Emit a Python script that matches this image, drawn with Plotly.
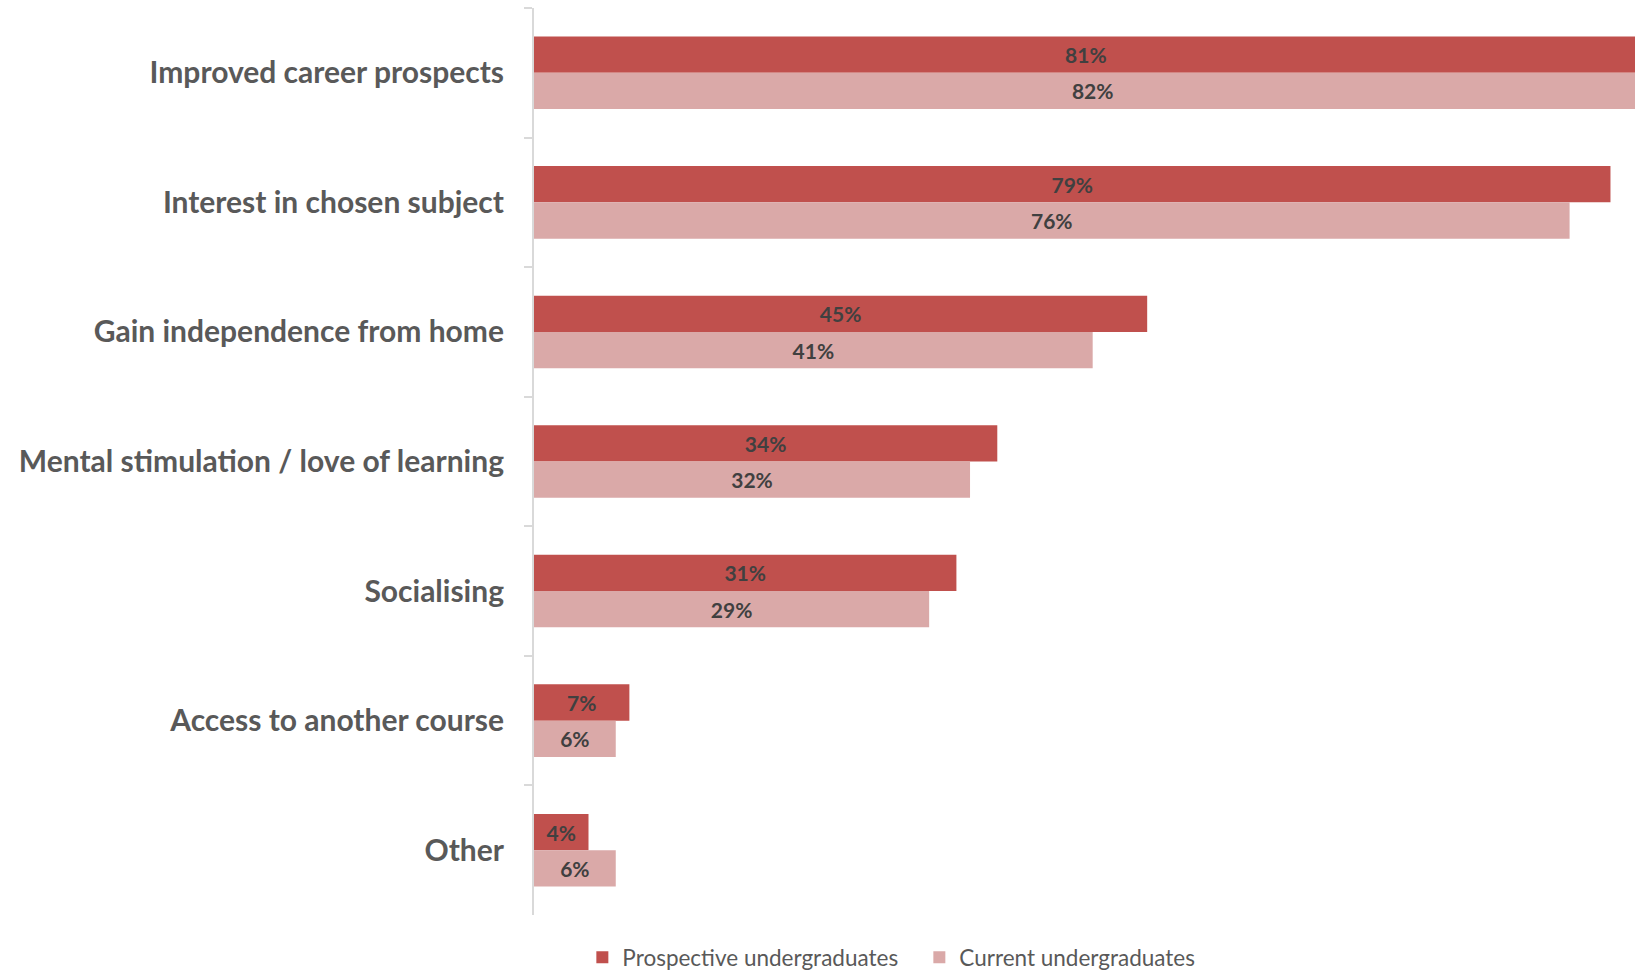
import plotly.graph_objects as go

categories = [
    "Improved career prospects",
    "Interest in chosen subject",
    "Gain independence from home",
    "Mental stimulation / love of learning",
    "Socialising",
    "Access to another course",
    "Other",
]
prospective = [81, 79, 45, 34, 31, 7, 4]
current = [82, 76, 41, 32, 29, 6, 6]
series_names = ["Prospective undergraduates", "Current undergraduates"]

FONT = "Lato, 'Open Sans', sans-serif"

fig = go.Figure()
for name, vals, color in [
    (series_names[0], prospective, "#C0504D"),
    (series_names[1], current, "#DAA9A8"),
]:
    fig.add_trace(go.Bar(
        name=name,
        y=categories,
        x=vals,
        orientation="h",
        marker=dict(color=color, line=dict(width=0)),
        text=[f"{v}%" for v in vals],
        textposition="inside",
        insidetextanchor="middle",
        constraintext="none",
        textangle=0,
        textfont=dict(family=FONT, size=21, color="#404040", weight="bold"),
    ))

fig.update_layout(
    width=1635,
    height=978,
    margin=dict(l=534, r=0, t=8, b=63, autoexpand=False),
    paper_bgcolor="white",
    plot_bgcolor="white",
    barmode="group",
    bargap=0.44,
    bargroupgap=0,
    showlegend=True,
    legend=dict(
        orientation="h",
        x=0.35,
        xanchor="center",
        y=-0.047,
        yanchor="middle",
        font=dict(family=FONT, size=22.5, color="#595959"),
        itemwidth=30,
        entrywidth=292,
        traceorder="normal",
    ),
    xaxis=dict(
        range=[0, 80.8],
        visible=False,
        showgrid=False,
        zeroline=False,
        fixedrange=True,
    ),
    yaxis=dict(
        autorange="reversed",
        showline=True,
        linecolor="#D9D9D9",
        linewidth=2,
        ticks="outside",
        tickson="boundaries",
        ticklen=8,
        tickcolor="#D9D9D9",
        tickwidth=2,
        ticklabelstandoff=22,
        tickfont=dict(family=FONT, size=30, color="#595959", weight="bold"),
        showgrid=False,
        zeroline=False,
    ),
)

fig.write_html("out.html")
